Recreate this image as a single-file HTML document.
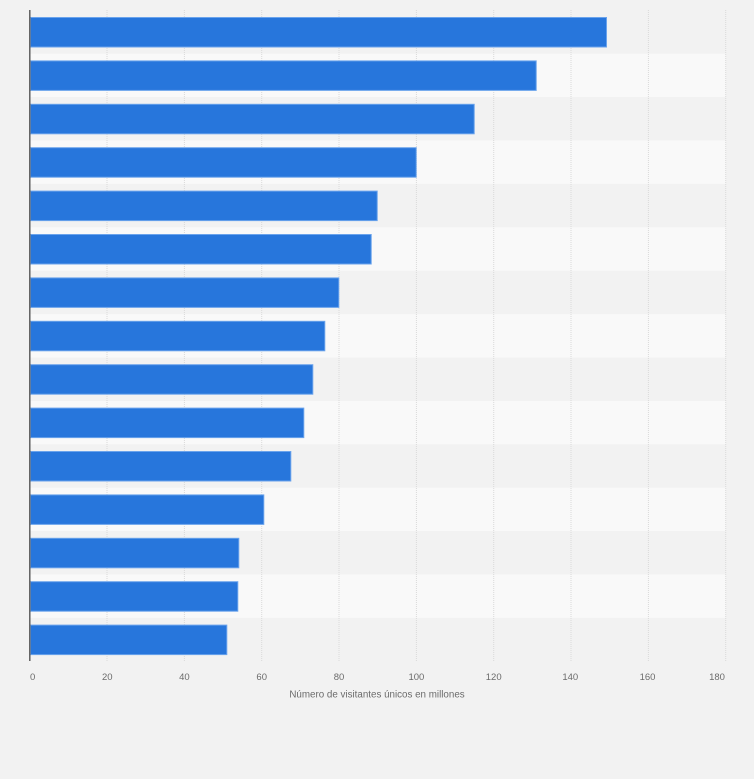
<!DOCTYPE html>
<html>
<head>
<meta charset="utf-8">
<style>
  html, body { margin: 0; padding: 0; background: #f2f2f2; }
  body { width: 754px; height: 779px; overflow: hidden; }
  svg { display: block; }
  text { font-family: "Liberation Sans", Arial, sans-serif; }
</style>
</head>
<body>
<svg width="754" height="779" viewBox="0 0 754 779" xmlns="http://www.w3.org/2000/svg">
  <rect x="0" y="0" width="754" height="779" fill="#f2f2f2"/>
  <!-- alternating bands -->
  <g fill="#f9f9f9">
    <rect x="30" y="53.7" width="695.7" height="43.4"/>
    <rect x="30" y="140.5" width="695.7" height="43.4"/>
    <rect x="30" y="227.3" width="695.7" height="43.4"/>
    <rect x="30" y="314.1" width="695.7" height="43.4"/>
    <rect x="30" y="400.9" width="695.7" height="43.4"/>
    <rect x="30" y="487.7" width="695.7" height="43.4"/>
    <rect x="30" y="574.5" width="695.7" height="43.4"/>
  </g>
  <!-- gridlines -->
  <g stroke="#d9d9d9" stroke-width="1" stroke-dasharray="1,1">
    <line x1="107" y1="10" x2="107" y2="661"/>
    <line x1="184.4" y1="10" x2="184.4" y2="661"/>
    <line x1="261.7" y1="10" x2="261.7" y2="661"/>
    <line x1="339" y1="10" x2="339" y2="661"/>
    <line x1="416.4" y1="10" x2="416.4" y2="661"/>
    <line x1="493.7" y1="10" x2="493.7" y2="661"/>
    <line x1="571" y1="10" x2="571" y2="661"/>
    <line x1="648.4" y1="10" x2="648.4" y2="661"/>
    <line x1="725.7" y1="10" x2="725.7" y2="661"/>
  </g>
  <!-- bars -->
  <g fill="#2776dc" stroke="#6aa3ec" stroke-width="1">
    <rect x="30.5" y="17.5" width="576" height="29.5"/>
    <rect x="30.5" y="60.9" width="505.7" height="29.5"/>
    <rect x="30.5" y="104.3" width="443.7" height="29.5"/>
    <rect x="30.5" y="147.7" width="385.7" height="29.5"/>
    <rect x="30.5" y="191.1" width="346.7" height="29.5"/>
    <rect x="30.5" y="234.5" width="340.7" height="29.5"/>
    <rect x="30.5" y="277.9" width="308.3" height="29.5"/>
    <rect x="30.5" y="321.3" width="294.3" height="29.5"/>
    <rect x="30.5" y="364.7" width="282.3" height="29.5"/>
    <rect x="30.5" y="408.1" width="273.3" height="29.5"/>
    <rect x="30.5" y="451.5" width="260.3" height="29.5"/>
    <rect x="30.5" y="494.9" width="233.3" height="29.5"/>
    <rect x="30.5" y="538.3" width="208.3" height="29.5"/>
    <rect x="30.5" y="581.7" width="207.3" height="29.5"/>
    <rect x="30.5" y="625.1" width="196.3" height="29.5"/>
  </g>
  <!-- y axis line -->
  <line x1="29.8" y1="10" x2="29.8" y2="661" stroke="#555" stroke-width="1.4"/>
  <!-- tick labels -->
  <g fill="#6b6b6b" font-size="9.5" text-anchor="middle">
    <text x="32.7" y="680">0</text>
    <text x="107.3" y="680">20</text>
    <text x="184.4" y="680">40</text>
    <text x="261.7" y="680">60</text>
    <text x="339" y="680">80</text>
    <text x="416.4" y="680">100</text>
    <text x="493.7" y="680">120</text>
    <text x="570.3" y="680">140</text>
    <text x="647.5" y="680">160</text>
    <text x="717" y="680">180</text>
  </g>
  <text x="377" y="697.5" fill="#6b6b6b" font-size="9.8" text-anchor="middle">Número de visitantes únicos en millones</text>
</svg>
</body>
</html>
